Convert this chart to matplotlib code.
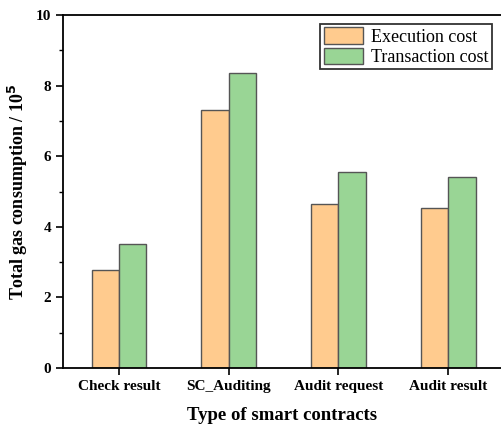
import matplotlib
matplotlib.use('Agg')
import matplotlib.pyplot as plt
import numpy as np
from matplotlib.ticker import MultipleLocator

categories = ['Check result', 'SC_Auditing', 'Audit request', 'Audit result']
execution_cost = [2.78, 7.31, 4.65, 4.53]
transaction_cost = [3.51, 8.36, 5.55, 5.41]

plt.rcParams['font.family'] = ['Liberation Serif', 'DejaVu Serif']

fig = plt.figure(figsize=(5.02, 4.28), dpi=100)
ax = fig.add_axes([0.1255, 0.140, 0.8745, 0.825])

x = np.arange(len(categories))
w = 0.25
ax.bar(x - w / 2, execution_cost, w, color='#FFCB8E', edgecolor='#555555',
       linewidth=1.0, label='Execution cost')
ax.bar(x + w / 2, transaction_cost, w, color='#99D595', edgecolor='#555555',
       linewidth=1.0, label='Transaction cost')

ax.set_xlim(-0.51, 3.49)
ax.set_ylim(0, 10)
ax.set_xticks(x)
ax.set_xticklabels(categories, fontsize=11, fontweight='bold')
ax.yaxis.set_major_locator(MultipleLocator(2))
ax.yaxis.set_minor_locator(MultipleLocator(1))
for lab in ax.get_yticklabels():
    lab.set_fontweight('bold')
    lab.set_fontsize(11)
ax.tick_params(axis='both', which='major', direction='out', length=5, width=1.2)
ax.tick_params(axis='y', which='minor', direction='out', length=3, width=1.0)
ax.tick_params(axis='x', which='minor', bottom=False)

for s in ['left', 'bottom', 'top']:
    ax.spines[s].set_linewidth(1.3)
ax.spines['right'].set_visible(False)

ax.set_xlabel('Type of smart contracts', fontsize=13.5, fontweight='bold', labelpad=10)
ax.set_ylabel('Total gas consumption / 10$^{\\mathbf{5}}$', fontsize=13, fontweight='bold')

leg = ax.legend(loc='upper right', bbox_to_anchor=(0.985, 0.985), fontsize=13,
                frameon=True, fancybox=False, edgecolor='black', borderpad=0.2,
                handlelength=2.2, handleheight=1.0, handletextpad=0.4,
                labelspacing=0.1, borderaxespad=0.2)
leg.get_frame().set_linewidth(1.3)

fig.savefig('out.png', dpi=100)
